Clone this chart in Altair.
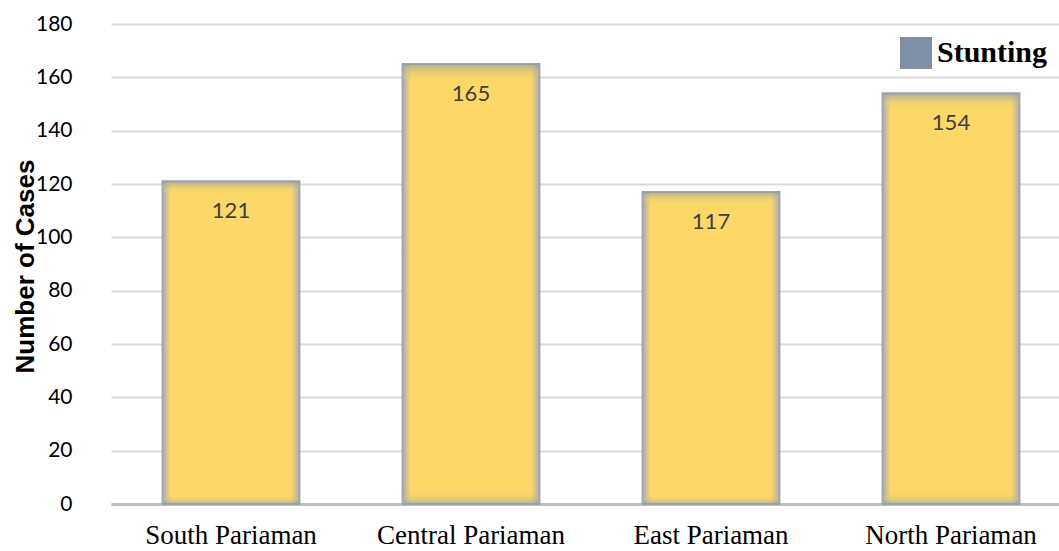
import altair as alt
import pandas as pd

regions = ["South Pariaman", "Central Pariaman", "East Pariaman", "North Pariaman"]
cases = [121, 165, 117, 154]
series = ["Stunting"] * 4

df = pd.DataFrame({"region": regions, "cases": cases, "series": series})

x_enc = alt.X("region:N", sort=regions,
              scale=alt.Scale(range=[0, 960], paddingInner=0.43, paddingOuter=0.215),
              axis=alt.Axis(title=None, labelAngle=0, labelFont="Liberation Serif", labelFontSize=27,
                            labelColor="#000000", labelPadding=18, labelLimit=400, ticks=False,
                            grid=False, domain=True, domainColor="#BFBFBF", domainWidth=3))
y_scale = alt.Scale(domain=[0, 180], nice=False)
y_axis = alt.Axis(title="Number of Cases", values=list(range(0, 181, 20)),
                  titleFont="Liberation Sans", titleFontSize=26, titleFontWeight="bold",
                  titleColor="#000000", titleX=-86, titleY=242, titleAngle=-90,
                  titleAlign="center", titleBaseline="middle",
                  labelFont="Lato", labelFontSize=21, labelColor="#000000",
                  labelPadding=39, ticks=False, domain=False,
                  grid=True, gridColor="#D9D9D9", gridWidth=2)
y_enc = alt.Y("cases:Q", scale=y_scale, axis=y_axis)

base = alt.Chart(df)

legend_pts = base.transform_calculate(low="10").mark_square(filled=True, opacity=1).encode(
    x=x_enc, y=alt.Y("low:Q", scale=y_scale, axis=y_axis),
    color=alt.Color("series:N", scale=alt.Scale(range=["#7F8FA6"]),
                    legend=alt.Legend(title=None, orient="none", legendX=789, legendY=13,
                                      symbolType="square", symbolSize=1024, symbolStrokeWidth=0,
                                      labelFont="Liberation Serif", labelFontSize=30,
                                      labelFontWeight="bold", labelColor="#000000",
                                      labelOffset=5, padding=0))
)

grad_h = alt.Gradient(gradient="linear", x1=0, x2=1, y1=0, y2=0, stops=[
    alt.GradientStop(offset=0, color="#A7AFB0"),
    alt.GradientStop(offset=0.06, color="#FCD868"),
    alt.GradientStop(offset=0.94, color="#FCD868"),
    alt.GradientStop(offset=1, color="#A7AFB0"),
])

bars = base.mark_bar(fill=grad_h, stroke="#9AA5B3", strokeWidth=2).encode(x=x_enc, y=y_enc)

grad_v = alt.Gradient(gradient="linear", x1=0, x2=0, y1=0, y2=1, stops=[
    alt.GradientStop(offset=0, color="rgba(140,155,175,0.7)"),
    alt.GradientStop(offset=0.04, color="rgba(252,216,104,0)"),
    alt.GradientStop(offset=0.97, color="rgba(252,216,104,0)"),
    alt.GradientStop(offset=1, color="rgba(140,155,175,0.6)"),
])
shade = base.mark_bar(fill=grad_v).encode(x=x_enc, y=y_enc)

labels = base.mark_text(font="Lato", fontSize=22, color="#404040", baseline="middle", dy=30).encode(
    x=x_enc, y=y_enc, text="cases:Q")

chart = alt.layer(legend_pts, bars, shade, labels).properties(
    width=948, height=480, autosize=alt.AutoSizeParams(type="none"),
    padding={"left": 111, "top": 24, "right": 0, "bottom": 47},
    background="white"
).configure_view(strokeWidth=0, stroke=None)

chart.save("out.html", embed_options={"renderer": "svg", "actions": False})
